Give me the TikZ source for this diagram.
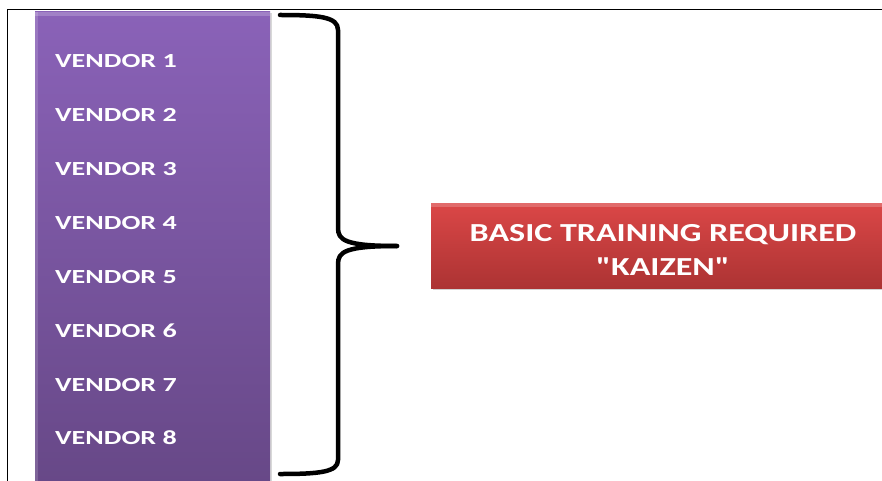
\documentclass[tikz,border=0pt]{standalone}
\usepackage{fontspec}
\usepackage{graphicx}
\setmainfont{Carlito}[Ligatures=TeXOff]
\usetikzlibrary{shadows}
\definecolor{purpTop}{HTML}{8A62B8}
\definecolor{purpBot}{HTML}{674887}
\definecolor{redTop}{HTML}{DB4747}
\definecolor{redBot}{HTML}{AC3333}
\newcommand{\wideTxt}[2]{\scalebox{#1}[1]{#2}}
\tikzset{
  vendortext/.style={text=white, font=\fontsize{20}{22}\selectfont\bfseries, anchor=west, inner sep=0pt},
  bracestyle/.style={line width=4.5pt, line cap=round, line join=round},
}
\begin{document}
\begin{tikzpicture}[x=1pt,y=-1pt]
\useasboundingbox (0,0) rectangle (882,481);
\fill[white] (0,0) rectangle (882,481);
% frame
\draw[line width=1.6pt] (7.5,482) -- (7.5,9.5) -- (883,9.5);
% purple column
\shade[top color=purpTop, bottom color=purpBot, drop shadow={shadow xshift=1.5pt, shadow yshift=-1.5pt, opacity=0.3}] (35,12) rectangle (270,485);
\fill[white, opacity=0.15] (35,12) rectangle (38,485);
\fill[white, opacity=0.2] (35,12) rectangle (270,16);
\node[vendortext] (v1) at (55,61) {\wideTxt{1.4}{VENDOR 1}};
\node[vendortext] (v2) at (55,115) {\wideTxt{1.4}{VENDOR 2}};
\node[vendortext] (v3) at (55,169) {\wideTxt{1.4}{VENDOR 3}};
\node[vendortext] (v4) at (55,223) {\wideTxt{1.4}{VENDOR 4}};
\node[vendortext] (v5) at (55,277) {\wideTxt{1.4}{VENDOR 5}};
\node[vendortext] (v6) at (55,331) {\wideTxt{1.4}{VENDOR 6}};
\node[vendortext] (v7) at (55,385) {\wideTxt{1.4}{VENDOR 7}};
\node[vendortext] (v8) at (55,438) {\wideTxt{1.4}{VENDOR 8}};
% brace
\coordinate (bt) at (280,15);
\coordinate (bb) at (280,474);
\coordinate (tip) at (397,246);
\draw[bracestyle] (bt) .. controls (320,15) and (338,17) .. (338,30)
  -- (338,228) .. controls (338,240) and (345,246) .. (tip);
\draw[bracestyle] (tip) .. controls (345,246) and (338,252) .. (338,264)
  -- (338,460) .. controls (338,472) and (320,474) .. (bb);
% red box
\shade[top color=redTop, bottom color=redBot, drop shadow={shadow xshift=1.5pt, shadow yshift=-2pt, opacity=0.35}] (431,203) rectangle (884,288);
\fill[white, opacity=0.2] (431,203) rectangle (884,207);
\node[text=white, font=\fontsize{26}{34}\selectfont\bfseries, align=center, inner sep=0pt] (basic) at (663,250) {\wideTxt{1.31}{BASIC TRAINING REQUIRED}\\\wideTxt{1.31}{"KAIZEN"}};
\end{tikzpicture}
\end{document}
